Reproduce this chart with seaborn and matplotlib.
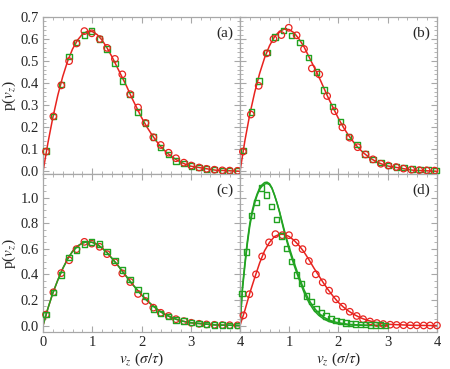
"""
Distributii p(v_z) - patru panouri (a)-(d), simulare vs. teorie.
"""
import numpy as np
import matplotlib
matplotlib.use("Agg")
import matplotlib.pyplot as plt
import seaborn as sns
from matplotlib.ticker import MultipleLocator

sns.set_theme(style="ticks")
plt.rcParams["font.family"] = ["Liberation Serif", "DejaVu Serif"]
plt.rcParams["mathtext.fontset"] = "stix"

RED = "#e8231f"
GREEN = "#22a322"
FRAME = "#a8a8a8"

# --- curbe teoretice (linii) ---
line_x = [0.0, 0.1, 0.2, 0.3, 0.4, 0.5, 0.6, 0.7, 0.8, 0.9, 1.0, 1.1, 1.2, 1.3, 1.4, 1.5,
          1.6, 1.7, 1.8, 1.9, 2.0, 2.1, 2.2, 2.3, 2.4, 2.5, 2.6, 2.7, 2.8, 2.9, 3.0, 3.5, 4.0]
line_a_red = [0, .13, .245, .345, .43, .50, .555, .595, .622, .635, .634, .62, .595, .56, .52, .475,
              .43, .385, .335, .29, .245, .205, .17, .138, .11, .088, .07, .054, .042, .032, .024, .006, .001]
line_b_red = [0, .14, .26, .36, .445, .515, .57, .61, .635, .645, .643, .628, .60, .565, .52, .475,
              .43, .38, .33, .285, .24, .20, .165, .135, .108, .086, .068, .053, .041, .032, .025, .006, .001]
line_c = [0, .135, .255, .355, .445, .52, .58, .62, .645, .655, .65, .635, .605, .57, .525, .48,
          .43, .38, .33, .285, .24, .20, .165, .133, .105, .083, .065, .05, .038, .029, .022, .005, .001]
line_d_red = [0, .12, .255, .375, .49, .585, .65, .695, .713, .712, .695, .665, .625, .575, .515, .45,
              .39, .33, .275, .225, .18, .145, .115, .09, .07, .053, .04, .03, .021, .015, .01, .002, 0]

line_d_x = [0, 0.05, 0.1, 0.15, 0.2, 0.25, 0.3, 0.35, 0.4, 0.45, 0.5, 0.55, 0.6, 0.65, 0.7, 0.75,
            0.8, 0.85, 0.9, 0.95, 1.0, 1.1, 1.2, 1.3, 1.4, 1.5, 1.6, 1.7, 1.8, 1.9, 2.0, 2.2, 2.5, 3.0]
line_d_green1 = [0, .30, .49, .66, .80, .90, .975, 1.03, 1.075, 1.10, 1.117, 1.12, 1.108, 1.075, 1.02, .96,
                 .89, .81, .73, .66, .59, .47, .36, .26, .18, .12, .08, .052, .033, .022, .014, .006, .002, 0]
line_d_green2 = [0, .28, .47, .64, .78, .88, .96, 1.02, 1.065, 1.09, 1.105, 1.11, 1.10, 1.07, 1.02, .96,
                 .895, .82, .745, .675, .61, .49, .38, .28, .20, .14, .097, .066, .045, .031, .022, .01, .003, 0]

# --- date simulare (markere) ---
pts_x = [0.06, 0.21, 0.37, 0.53, 0.68, 0.84, 0.99, 1.15, 1.30, 1.46, 1.61, 1.77, 1.93,
         2.08, 2.24, 2.39, 2.55, 2.70, 2.86, 3.01, 3.17, 3.32, 3.48, 3.64, 3.79, 3.95]

a_red = [0.09, 0.25, 0.39, 0.50, 0.58, 0.636, 0.626, 0.60, 0.56, 0.51, 0.44, 0.35, 0.29,
         0.22, 0.155, 0.12, 0.085, 0.06, 0.04, 0.027, 0.018, 0.012, 0.008, 0.005, 0.004, 0.003]
a_green = [0.092, 0.25, 0.395, 0.52, 0.585, 0.618, 0.636, 0.60, 0.555, 0.49, 0.41, 0.35, 0.27,
           0.22, 0.156, 0.11, 0.076, 0.047, 0.035, 0.025, 0.017, 0.012, 0.008, 0.005, 0.004, 0.003]

b_red_x = [0.06, 0.22, 0.38, 0.54, 0.68, 0.84, 0.99, 1.15, 1.30, 1.46, 1.61, 1.77, 1.92,
           2.08, 2.23, 2.39, 2.55, 2.70, 2.86, 3.01, 3.17, 3.32, 3.48, 3.64, 3.79, 3.95]
b_red = [0.09, 0.258, 0.388, 0.535, 0.60, 0.618, 0.651, 0.617, 0.555, 0.467, 0.44, 0.342, 0.273,
         0.20, 0.153, 0.11, 0.077, 0.055, 0.035, 0.027, 0.02, 0.013, 0.008, 0.006, 0.005, 0.004]
b_green_x = [0.07, 0.24, 0.39, 0.55, 0.71, 0.88, 1.05, 1.22, 1.39, 1.55, 1.71, 1.88, 2.04,
             2.21, 2.38, 2.54, 2.70, 2.86, 3.02, 3.18, 3.33, 3.50, 3.66, 3.82, 3.98]
b_green = [0.095, 0.27, 0.41, 0.54, 0.61, 0.64, 0.615, 0.585, 0.517, 0.45, 0.37, 0.295, 0.227,
           0.159, 0.121, 0.08, 0.055, 0.04, 0.027, 0.02, 0.018, 0.011, 0.008, 0.006, 0.005]

c_red = [0.086, 0.26, 0.41, 0.51, 0.597, 0.654, 0.64, 0.615, 0.558, 0.494, 0.408, 0.34, 0.247,
         0.192, 0.14, 0.10, 0.075, 0.05, 0.035, 0.022, 0.014, 0.009, 0.006, 0.004, 0.003, 0.002]
c_green = [0.086, 0.257, 0.395, 0.53, 0.59, 0.636, 0.654, 0.636, 0.58, 0.51, 0.434, 0.36, 0.283,
           0.23, 0.13, 0.095, 0.07, 0.045, 0.035, 0.022, 0.015, 0.01, 0.006, 0.004, 0.003, 0.002]

d_red_x = [0.07, 0.19, 0.325, 0.45, 0.59, 0.72, 0.86, 0.995, 1.13, 1.27, 1.40, 1.54, 1.68, 1.81,
           1.95, 2.09, 2.23, 2.37, 2.50, 2.64, 2.78, 2.91, 3.05, 3.18, 3.32, 3.46, 3.59, 3.73, 3.86, 4.00]
d_red = [0.08, 0.245, 0.40, 0.54, 0.65, 0.714, 0.706, 0.706, 0.648, 0.597, 0.504, 0.40, 0.338, 0.273,
         0.205, 0.148, 0.108, 0.075, 0.05, 0.032, 0.02, 0.012, 0.007, 0.005, 0.003, 0.002, 0.002, 0.001, 0.001, 0.001]
d_green_x = [0.04, 0.135, 0.24, 0.34, 0.44, 0.54, 0.64, 0.745, 0.846, 0.95, 1.05, 1.15, 1.25, 1.35, 1.45,
             1.55, 1.65, 1.75, 1.85, 1.95, 2.05, 2.15, 2.25, 2.35, 2.45, 2.55, 2.65, 2.75, 2.85, 2.95]
d_green = [0.25, 0.576, 0.86, 0.96, 1.075, 1.02, 0.93, 0.83, 0.70, 0.60, 0.50, 0.395, 0.33, 0.23, 0.19,
           0.135, 0.10, 0.075, 0.057, 0.039, 0.03, 0.02, 0.015, 0.012, 0.01, 0.008, 0.006, 0.005, 0.004, 0.003]


def _line(ax, x, y, color):
    sns.lineplot(x=x, y=y, ax=ax, color=color, linewidth=1.1, estimator=None, sort=False, zorder=2)


def _circles(ax, x, y):
    sns.scatterplot(x=x, y=y, ax=ax, marker="o", s=22, facecolors="none", edgecolor=RED,
                    linewidth=0.9, clip_on=False, zorder=3)


def _squares(ax, x, y):
    sns.scatterplot(x=x, y=y, ax=ax, marker="s", s=15, facecolors="none", edgecolor=GREEN,
                    linewidth=1.0, clip_on=False, zorder=3)


fig, axes = plt.subplots(2, 2, figsize=(4.5, 3.69), dpi=100)
fig.subplots_adjust(left=0.0956, right=0.971, top=0.954, bottom=0.1003, wspace=0, hspace=0)
ax_a, ax_b, ax_c, ax_d = axes.flat

# (a)
_line(ax_a, line_x, line_a_red, RED)
_squares(ax_a, pts_x, a_green)
_circles(ax_a, pts_x, a_red)
# (b)
_line(ax_b, line_x, line_b_red, RED)
_squares(ax_b, b_green_x, b_green)
_circles(ax_b, b_red_x, b_red)
# (c)
_line(ax_c, line_x, line_c, RED)
_line(ax_c, line_x, line_c, GREEN)
_circles(ax_c, pts_x, c_red)
_squares(ax_c, pts_x, c_green)
# (d)
_line(ax_d, line_x, line_d_red, RED)
_line(ax_d, line_d_x, line_d_green2, GREEN)
_line(ax_d, line_d_x, line_d_green1, GREEN)
_circles(ax_d, d_red_x, d_red)
_squares(ax_d, d_green_x, d_green)

for ax, tag in zip(axes.flat, ["(a)", "(b)", "(c)", "(d)"]):
    ax.set_xlim(0, 4)
    ax.xaxis.set_major_locator(MultipleLocator(1))
    ax.xaxis.set_minor_locator(MultipleLocator(0.2))
    ax.tick_params(which="both", direction="in", top=True, right=True, color=FRAME,
                   labelsize=10.5, pad=3)
    ax.tick_params(which="major", length=4, width=0.8)
    ax.tick_params(which="minor", length=2, width=0.6)
    for sp in ax.spines.values():
        sp.set_color(FRAME)
        sp.set_linewidth(0.9)
    ax.text(0.965, 0.94, tag, transform=ax.transAxes, ha="right", va="top", fontsize=11)
    ax.set_xlabel("")
    ax.set_ylabel("")

for ax in (ax_a, ax_b):
    ax.set_ylim(-0.0136, 0.70)
    ax.yaxis.set_major_locator(MultipleLocator(0.1))
    ax.yaxis.set_minor_locator(MultipleLocator(0.02))
    ax.set_xticklabels([])
for ax in (ax_c, ax_d):
    ax.set_ylim(-0.05, 1.18)
    ax.yaxis.set_major_locator(MultipleLocator(0.2))
    ax.yaxis.set_minor_locator(MultipleLocator(0.05))
    ax.set_xlabel(r"$v_z$ ($\sigma/\tau$)", fontsize=11, labelpad=1)

ax_a.set_yticks([0, 0.1, 0.2, 0.3, 0.4, 0.5, 0.6, 0.7])
ax_a.set_yticklabels(["0.0", "0.1", "0.2", "0.3", "0.4", "0.5", "0.6", "0.7"])
ax_c.set_yticks([0, 0.2, 0.4, 0.6, 0.8, 1.0])
ax_c.set_yticklabels(["0.0", "0.2", "0.4", "0.6", "0.8", "1.0"])
ax_b.set_yticklabels([])
ax_d.set_yticklabels([])
ax_c.set_xticks([0, 1, 2, 3, 4])
ax_c.set_xticklabels(["0", "1", "2", "3", "4"])
ax_d.set_xticks([0, 1, 2, 3, 4])
ax_d.set_xticklabels(["", "1", "2", "3", "4"])

for ax in (ax_a, ax_c):
    ax.set_ylabel(r"p($v_z$)", fontsize=11, labelpad=2)

plt.savefig("out.png", dpi=100)
plt.close()
